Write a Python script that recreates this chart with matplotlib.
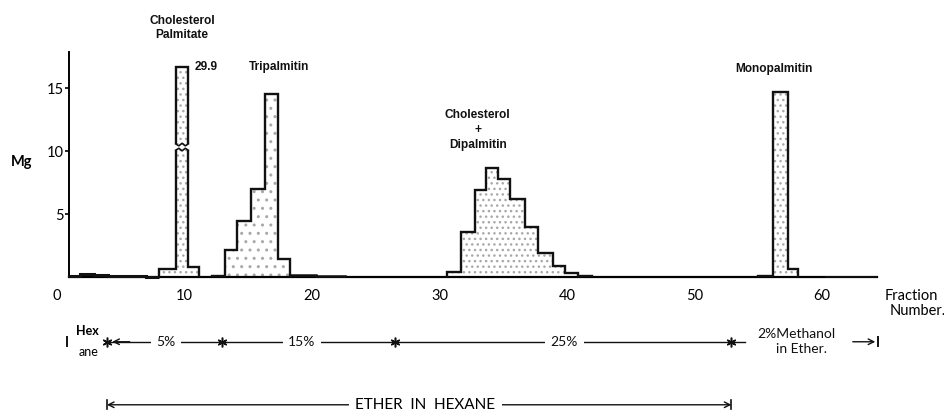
import matplotlib
matplotlib.use('Agg')
import matplotlib.pyplot as plt

# ---- data ----
# low background fractions at the start (no shading)
lead_edges = [0.94, 1.8, 2.9, 4.0, 5.0, 6.0, 7.0, 8.02]
lead_mg = [0.12, 0.3, 0.2, 0.15, 0.12, 0.08, 0.05]

# cholesterol palmitate (middle bar is broken, true value 29.9)
cp_edges = [8.02, 9.31, 10.30, 11.16]
cp_mg = [0.65, 16.7, 0.8]
cp_break = (10.1, 10.6)

# tripalmitin
tp_edges = [12.13, 13.18, 14.14, 15.19, 16.31, 17.36, 18.27]
tp_mg = [0.15, 2.2, 4.45, 7.0, 14.6, 1.45]
tp_tail_edges = [18.27, 19.3, 20.3, 21.4, 22.6]
tp_tail_mg = [0.2, 0.2, 0.15, 0.08]

# cholesterol + dipalmitin
dp_edges = [30.56, 31.69, 32.78, 33.65, 34.56, 35.53, 36.71, 37.75, 38.88, 39.84, 40.86, 41.94]
dp_mg = [0.46, 3.58, 6.97, 8.66, 7.78, 6.2, 4.0, 1.92, 0.94, 0.33, 0.12]

# monopalmitin
mp_edges = [55.0, 56.13, 57.31, 58.14]
mp_mg = [0.15, 14.75, 0.7]
mp_tail_edges = [60.2, 61.5, 63.0, 64.3]
mp_tail_mg = [0.05, 0.06, 0.05]

x_ticks = [0, 10, 20, 30, 40, 50, 60]
y_ticks = [5, 10, 15]

# solvent steps
star_x = [3.92, 12.94, 26.5, 52.9]
solvent_labels = ['5%', '15%', '25%']
solvent_label_x = [8.55, 19.2, 39.8]

BLACK = '#111111'
DOTS = '#a8a8a8'

fig = plt.figure(figsize=(9.45, 4.17), dpi=100)
ax = fig.add_axes([0, 0, 1, 1])
ax.set_xlim(-4.47, 69.65)
ax.set_ylim(-11.07, 22.02)


def peak(edges, vals, shade=True, lw=1.7, hatch='...'):
    if shade:
        ax.stairs(vals, edges, fill=True, facecolor='white', edgecolor=DOTS,
                  hatch=hatch, linewidth=0, zorder=2)
    ax.stairs(vals, edges, baseline=0, color=BLACK, linewidth=lw, zorder=3)


peak(lead_edges, lead_mg, shade=False, lw=2.2)
peak(cp_edges, cp_mg)
peak(tp_edges, tp_mg, hatch='..')
peak(tp_tail_edges, tp_tail_mg, shade=False, lw=1.8)
peak(dp_edges, dp_mg)
peak(mp_edges, mp_mg)
peak(mp_tail_edges, mp_tail_mg, shade=False, lw=1.2)

# break in the cholesterol palmitate bar
bx0, bx1 = cp_edges[1] - 0.15, cp_edges[2] + 0.15
ax.fill_between([bx0, bx1], cp_break[0], cp_break[1], color='white', zorder=4, linewidth=0)
wx = [cp_edges[1], cp_edges[1] + 0.25, cp_edges[1] + 0.5, cp_edges[1] + 0.75, cp_edges[2]]
ax.plot(wx, [cp_break[0], cp_break[0] + 0.15, cp_break[0] - 0.05, cp_break[0] + 0.15, cp_break[0]],
        color=BLACK, lw=1.2, zorder=5)
ax.plot(wx, [cp_break[1], cp_break[1] - 0.15, cp_break[1] + 0.05, cp_break[1] - 0.15, cp_break[1]],
        color=BLACK, lw=1.2, zorder=5)

# axes
for s in ['top', 'right']:
    ax.spines[s].set_visible(False)
ax.spines['left'].set_position(('data', 0.94))
ax.spines['left'].set_bounds(0, 17.9)
ax.spines['left'].set_linewidth(1.4)
ax.spines['bottom'].set_position(('data', 0))
ax.spines['bottom'].set_bounds(0.94, 64.3)
ax.spines['bottom'].set_linewidth(1.6)

tick_font = dict(family='Lato', size=10.5)
ax.set_xticks(x_ticks)
ax.set_xticklabels([str(t) for t in x_ticks], fontdict=tick_font)
ax.tick_params(axis='x', length=0, pad=8)
ax.set_yticks(y_ticks)
ax.set_yticklabels([str(t) for t in y_ticks], fontdict=tick_font)
ax.tick_params(axis='y', length=3, width=1.2, pad=1, direction='out')

ax.text(-2.8, 9.2, 'Mg', ha='center', va='center', family='Lato', fontsize=10.5, fontweight='bold')
ax.text(64.9, -1.45, 'Fraction', ha='left', va='center', family='Lato', fontsize=10.5)
ax.text(65.3, -2.65, 'Number.', ha='left', va='center', family='Lato', fontsize=10.5)

# peak labels
lab = dict(family='Liberation Sans', fontsize=8.6, fontweight='bold', color=BLACK)
ax.text(9.8, 19.8, 'Cholesterol\nPalmitate', ha='center', va='center', linespacing=1.25, **lab)
ax.text(10.8, 16.7, '29.9', ha='left', va='center', **lab)
ax.text(17.4, 16.7, 'Tripalmitin', ha='center', va='center', **lab)
ax.text(33.0, 11.7, 'Cholesterol\n+\nDipalmitin', ha='center', va='center', linespacing=1.3, **lab)
ax.text(56.2, 16.55, 'Monopalmitin', ha='center', va='center', **lab)

# solvent row
row_y = -5.1
sol = dict(family='Lato', fontsize=10, color=BLACK)
ax.plot([star_x[0], star_x[-1]], [row_y, row_y], color=BLACK, lw=1.0, zorder=2)
ax.plot(star_x, [row_y] * len(star_x), linestyle='none', marker=(6, 2, 0),
        markersize=7, color=BLACK, markeredgewidth=1.1, zorder=3)
for lx, txt in zip(solvent_label_x, solvent_labels):
    ax.text(lx, row_y, txt, ha='center', va='center',
            bbox=dict(facecolor='white', edgecolor='none', pad=4), zorder=4, **sol)
ax.annotate('', xy=(star_x[0] + 0.2, row_y), xytext=(star_x[0] + 2.0, row_y),
            arrowprops=dict(arrowstyle='->', lw=1.0, color=BLACK))
# left end + Hexane
ax.plot([0.75, 0.75], [row_y - 0.35, row_y + 0.35], color=BLACK, lw=1.4)
ax.text(2.4, row_y + 0.85, 'Hex', ha='center', va='center', family='Lato', fontsize=9, fontweight='bold')
ax.text(2.5, row_y - 0.8, 'ane', ha='center', va='center', family='Lato', fontsize=9)
# methanol
ax.plot([star_x[-1], 54.0], [row_y, row_y], color=BLACK, lw=1.0)
ax.text(58.0, row_y + 0.6, '2%Methanol', ha='center', va='center', **sol)
ax.text(58.4, row_y - 0.6, 'in Ether.', ha='center', va='center', **sol)
ax.annotate('', xy=(64.4, row_y), xytext=(62.2, row_y),
            arrowprops=dict(arrowstyle='->', lw=1.0, color=BLACK))
ax.plot([64.4, 64.4], [row_y - 0.35, row_y + 0.35], color=BLACK, lw=1.4)

# ether in hexane span
eth_y = -10.1
ax.annotate('', xy=(star_x[0], eth_y), xytext=(star_x[-1], eth_y),
            arrowprops=dict(arrowstyle='<->', lw=1.0, color=BLACK, shrinkA=0, shrinkB=0))
for ex in (star_x[0], star_x[-1]):
    ax.plot([ex, ex], [eth_y - 0.35, eth_y + 0.35], color=BLACK, lw=1.2)
ax.text(28.9, eth_y, 'ETHER  IN  HEXANE', ha='center', va='center', family='Lato', fontsize=11,
        bbox=dict(facecolor='white', edgecolor='none', pad=5), zorder=4)

fig.savefig('out.png', dpi=100)
